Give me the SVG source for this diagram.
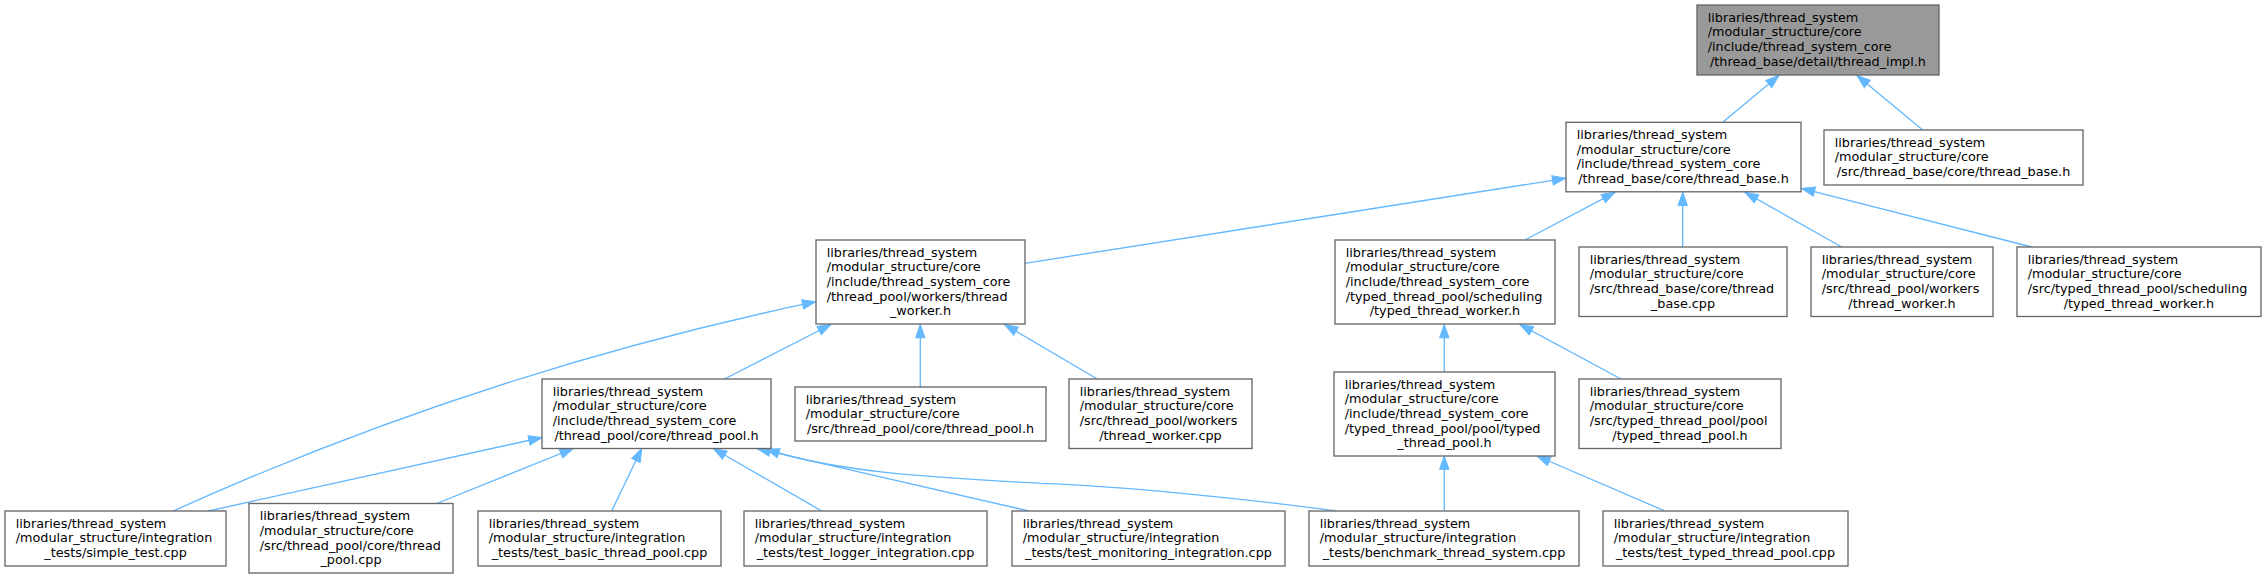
<svg xmlns="http://www.w3.org/2000/svg" width="2267" height="579" viewBox="0 0 2267 579">
<style>
.node rect{fill:#ffffff;stroke:#666666;stroke-width:1.33}
.cur rect{fill:#999999}
text{font-family:"DejaVu Sans","Liberation Sans",sans-serif;font-size:12.8px;fill:#000000}
.mid{text-anchor:middle}
.edges path{fill:none;stroke:#63b8ff;stroke-width:1.33;marker-end:url(#ah)}
</style>
<defs>
<marker id="ah" markerUnits="userSpaceOnUse" markerWidth="16" markerHeight="12" viewBox="-1 -6 16 12" refX="13.3" refY="0" orient="auto">
<path d="M0,-4.7 L13.3,0 L0,4.7 z" fill="#63b8ff" stroke="#63b8ff" stroke-width="1"/>
</marker>
</defs>
<rect width="2267" height="579" fill="#ffffff"/>
<g class="edges" id="edges">
<path d="M1722.7,122.3 L1779,75.5"/>
<path d="M1922.7,130 L1857,75.5"/>
<path d="M1025,263.3 L1565.7,178.3"/>
<path d="M1525,240 L1615,192.3"/>
<path d="M1682.7,247 L1682.7,192.3"/>
<path d="M1841.7,247 L1745,192.3"/>
<path d="M2031.7,247 L1801.5,188.3"/>
<path d="M724.5,379 L831,324.5"/>
<path d="M173.3,511 C387,414.4 601.7,346.6 815.7,301.7"/>
<path d="M920.3,387 L920.3,324.5"/>
<path d="M1097.3,379 L1004.5,324.5"/>
<path d="M1444.3,372 L1444.3,324.5"/>
<path d="M1621,379 L1519.8,324.5"/>
<path d="M208.3,511 L542,437.5"/>
<path d="M436.7,503.5 L573.3,448.5"/>
<path d="M611.7,511 L641.7,448.5"/>
<path d="M821.7,511 L713.3,448.5"/>
<path d="M1029,511 L757,448.5"/>
<path d="M1336.7,511 C1240,498 1120,486 1040,483.3 C950,478 840,474 766,449"/>
<path d="M1444.3,511 L1444.3,456"/>
<path d="M1665,511 L1537,456"/>
</g>
<g class="node cur" id="node_thread_impl_h">
<rect x="1697" y="5" width="242" height="70"/>
<text><tspan x="1707.7" y="21.7">libraries/thread_system</tspan><tspan x="1707.7" y="36.4">/modular_structure/core</tspan><tspan x="1707.7" y="51">/include/thread_system_core</tspan><tspan class="mid" x="1818" y="65.7">/thread_base/detail/thread_impl.h</tspan></text>
</g>
<g class="node" id="node_inc_thread_base_h">
<rect x="1566" y="122.3" width="235" height="69.5"/>
<text><tspan x="1576.7" y="139">libraries/thread_system</tspan><tspan x="1576.7" y="153.7">/modular_structure/core</tspan><tspan x="1576.7" y="168.3">/include/thread_system_core</tspan><tspan class="mid" x="1683.5" y="183">/thread_base/core/thread_base.h</tspan></text>
</g>
<g class="node" id="node_src_thread_base_h">
<rect x="1824" y="130" width="259" height="55"/>
<text><tspan x="1834.7" y="146.7">libraries/thread_system</tspan><tspan x="1834.7" y="161.4">/modular_structure/core</tspan><tspan class="mid" x="1953.5" y="176">/src/thread_base/core/thread_base.h</tspan></text>
</g>
<g class="node" id="node_inc_thread_worker_h">
<rect x="816" y="240" width="209" height="84"/>
<text><tspan x="826.7" y="256.7">libraries/thread_system</tspan><tspan x="826.7" y="271.4">/modular_structure/core</tspan><tspan x="826.7" y="286">/include/thread_system_core</tspan><tspan x="826.7" y="300.7">/thread_pool/workers/thread</tspan><tspan class="mid" x="920.5" y="315.4">_worker.h</tspan></text>
</g>
<g class="node" id="node_inc_typed_thread_worker_h">
<rect x="1335" y="240" width="220" height="84"/>
<text><tspan x="1345.7" y="256.7">libraries/thread_system</tspan><tspan x="1345.7" y="271.4">/modular_structure/core</tspan><tspan x="1345.7" y="286">/include/thread_system_core</tspan><tspan x="1345.7" y="300.7">/typed_thread_pool/scheduling</tspan><tspan class="mid" x="1445" y="315.4">/typed_thread_worker.h</tspan></text>
</g>
<g class="node" id="node_src_thread_base_cpp">
<rect x="1579" y="247" width="208" height="69.5"/>
<text><tspan x="1589.7" y="263.7">libraries/thread_system</tspan><tspan x="1589.7" y="278.4">/modular_structure/core</tspan><tspan x="1589.7" y="293">/src/thread_base/core/thread</tspan><tspan class="mid" x="1683" y="307.7">_base.cpp</tspan></text>
</g>
<g class="node" id="node_src_thread_worker_h">
<rect x="1811" y="247" width="182" height="69.5"/>
<text><tspan x="1821.7" y="263.7">libraries/thread_system</tspan><tspan x="1821.7" y="278.4">/modular_structure/core</tspan><tspan x="1821.7" y="293">/src/thread_pool/workers</tspan><tspan class="mid" x="1902" y="307.7">/thread_worker.h</tspan></text>
</g>
<g class="node" id="node_src_typed_thread_worker_h">
<rect x="2017" y="247" width="244" height="69.5"/>
<text><tspan x="2027.7" y="263.7">libraries/thread_system</tspan><tspan x="2027.7" y="278.4">/modular_structure/core</tspan><tspan x="2027.7" y="293">/src/typed_thread_pool/scheduling</tspan><tspan class="mid" x="2139" y="307.7">/typed_thread_worker.h</tspan></text>
</g>
<g class="node" id="node_inc_thread_pool_h">
<rect x="542" y="379" width="229" height="69.5"/>
<text><tspan x="552.7" y="395.7">libraries/thread_system</tspan><tspan x="552.7" y="410.4">/modular_structure/core</tspan><tspan x="552.7" y="425">/include/thread_system_core</tspan><tspan class="mid" x="656.5" y="439.7">/thread_pool/core/thread_pool.h</tspan></text>
</g>
<g class="node" id="node_src_thread_pool_h">
<rect x="795" y="387" width="251" height="54"/>
<text><tspan x="805.7" y="403.7">libraries/thread_system</tspan><tspan x="805.7" y="418.4">/modular_structure/core</tspan><tspan class="mid" x="920.5" y="433">/src/thread_pool/core/thread_pool.h</tspan></text>
</g>
<g class="node" id="node_src_thread_worker_cpp">
<rect x="1069" y="379" width="183" height="69.5"/>
<text><tspan x="1079.7" y="395.7">libraries/thread_system</tspan><tspan x="1079.7" y="410.4">/modular_structure/core</tspan><tspan x="1079.7" y="425">/src/thread_pool/workers</tspan><tspan class="mid" x="1160.5" y="439.7">/thread_worker.cpp</tspan></text>
</g>
<g class="node" id="node_inc_typed_thread_pool_h">
<rect x="1334" y="372" width="221" height="84"/>
<text><tspan x="1344.7" y="388.7">libraries/thread_system</tspan><tspan x="1344.7" y="403.4">/modular_structure/core</tspan><tspan x="1344.7" y="418">/include/thread_system_core</tspan><tspan x="1344.7" y="432.7">/typed_thread_pool/pool/typed</tspan><tspan class="mid" x="1444.5" y="447.4">_thread_pool.h</tspan></text>
</g>
<g class="node" id="node_src_typed_thread_pool_h">
<rect x="1579" y="379" width="202" height="69.5"/>
<text><tspan x="1589.7" y="395.7">libraries/thread_system</tspan><tspan x="1589.7" y="410.4">/modular_structure/core</tspan><tspan x="1589.7" y="425">/src/typed_thread_pool/pool</tspan><tspan class="mid" x="1680" y="439.7">/typed_thread_pool.h</tspan></text>
</g>
<g class="node" id="node_simple_test_cpp">
<rect x="5" y="511" width="221" height="55"/>
<text><tspan x="15.7" y="527.7">libraries/thread_system</tspan><tspan x="15.7" y="542.4">/modular_structure/integration</tspan><tspan class="mid" x="115.5" y="557">_tests/simple_test.cpp</tspan></text>
</g>
<g class="node" id="node_src_thread_pool_cpp">
<rect x="249" y="503.5" width="204" height="69.5"/>
<text><tspan x="259.7" y="520.2">libraries/thread_system</tspan><tspan x="259.7" y="534.9">/modular_structure/core</tspan><tspan x="259.7" y="549.5">/src/thread_pool/core/thread</tspan><tspan class="mid" x="351" y="564.2">_pool.cpp</tspan></text>
</g>
<g class="node" id="node_test_basic_thread_pool_cpp">
<rect x="478" y="511" width="243" height="55"/>
<text><tspan x="488.7" y="527.7">libraries/thread_system</tspan><tspan x="488.7" y="542.4">/modular_structure/integration</tspan><tspan class="mid" x="599.5" y="557">_tests/test_basic_thread_pool.cpp</tspan></text>
</g>
<g class="node" id="node_test_logger_integration_cpp">
<rect x="744" y="511" width="243" height="55"/>
<text><tspan x="754.7" y="527.7">libraries/thread_system</tspan><tspan x="754.7" y="542.4">/modular_structure/integration</tspan><tspan class="mid" x="865.5" y="557">_tests/test_logger_integration.cpp</tspan></text>
</g>
<g class="node" id="node_test_monitoring_integration_cpp">
<rect x="1012" y="511" width="273" height="55"/>
<text><tspan x="1022.7" y="527.7">libraries/thread_system</tspan><tspan x="1022.7" y="542.4">/modular_structure/integration</tspan><tspan class="mid" x="1148.5" y="557">_tests/test_monitoring_integration.cpp</tspan></text>
</g>
<g class="node" id="node_benchmark_thread_system_cpp">
<rect x="1309" y="511" width="270" height="55"/>
<text><tspan x="1319.7" y="527.7">libraries/thread_system</tspan><tspan x="1319.7" y="542.4">/modular_structure/integration</tspan><tspan class="mid" x="1444" y="557">_tests/benchmark_thread_system.cpp</tspan></text>
</g>
<g class="node" id="node_test_typed_thread_pool_cpp">
<rect x="1603" y="511" width="245" height="55"/>
<text><tspan x="1613.7" y="527.7">libraries/thread_system</tspan><tspan x="1613.7" y="542.4">/modular_structure/integration</tspan><tspan class="mid" x="1725.5" y="557">_tests/test_typed_thread_pool.cpp</tspan></text>
</g>
</svg>
